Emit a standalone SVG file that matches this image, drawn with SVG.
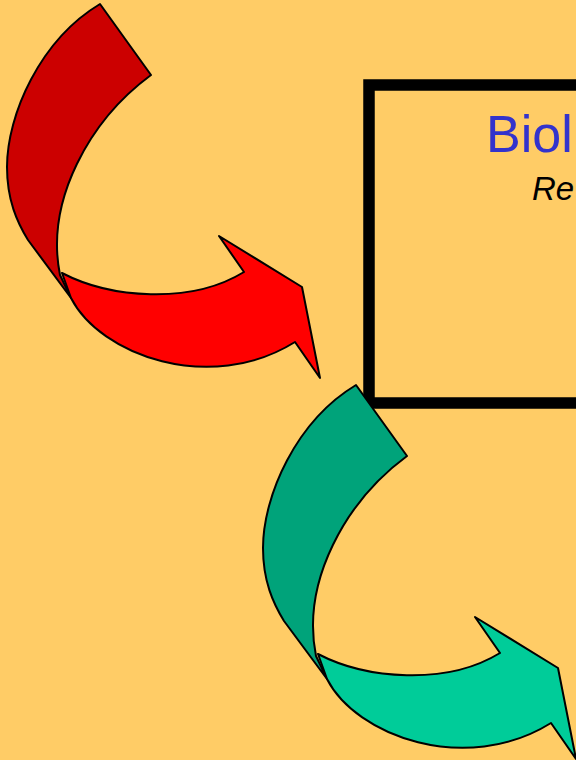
<svg xmlns="http://www.w3.org/2000/svg" width="576" height="760" viewBox="0 0 576 760">
<defs>
<style>
.edge{stroke:#000;stroke-width:2;stroke-linejoin:round}
.t{font-family:"Liberation Sans",Arial,sans-serif}
</style>
<path id="backFace" d="M100,4 L151,75 C90,120 45,200 60,275 L71,298 L28,240 C17,222 7,200 7,167 C7,115 40,40 100,4 Z"/>
<path id="frontFace" d="M62,273 C110,298 190,305 244,272 L219,236 L302,287 L320,378 L295,342 C210,395 100,355 71,298 Z"/>
</defs>
<rect width="576" height="760" fill="#FFCC66"/>
<g id="box">
<rect x="369" y="85" width="260" height="318" fill="none" stroke="#000" stroke-width="11.5"/>
<text class="t" x="486" y="152" font-size="52" fill="#3333CC">Biol</text>
<text class="t" x="532" y="200" font-size="33" font-style="italic" fill="#000">Re</text>
</g>
<g id="connectors">
<g id="red-arrow">
<use href="#backFace" class="edge" fill="#CC0000"/>
<use href="#frontFace" class="edge" fill="#FF0000"/>
</g>
<g id="teal-arrow" transform="translate(256,381)">
<use href="#backFace" class="edge" fill="#00A37A"/>
<use href="#frontFace" class="edge" fill="#00CC99"/>
</g>
</g>
</svg>
